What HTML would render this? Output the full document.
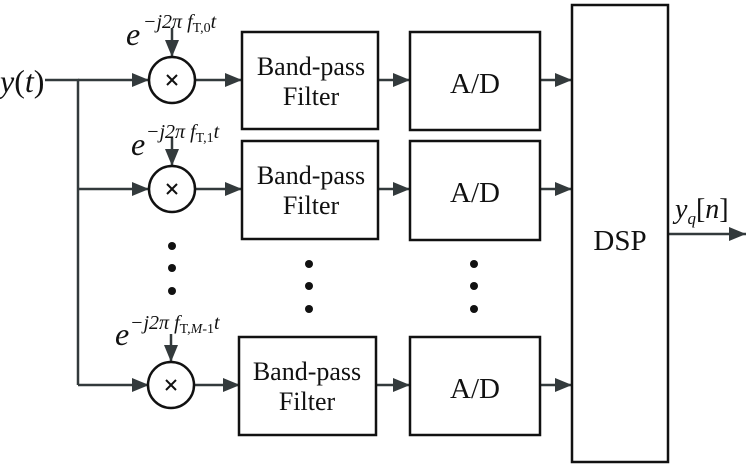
<!DOCTYPE html>
<html><head><style>body{margin:0;background:#fff} svg text{font-family:"Liberation Serif",serif}</style></head><body>
<svg width="748" height="467" viewBox="0 0 748 467" xmlns="http://www.w3.org/2000/svg">
<defs><marker id="b" markerWidth="17" markerHeight="14" refX="17" refY="7" orient="auto" markerUnits="userSpaceOnUse"><path d="M0,0 L17,7 L0,14 Z" fill="#333a3c"/></marker></defs>
<g stroke="#333a3c" stroke-width="2.5" fill="none">
<path d="M45,80 H78 V385"/>
<path d="M78,80 H149" marker-end="url(#b)"/>
<path d="M78,189 H149" marker-end="url(#b)"/>
<path d="M78,385 H149" marker-end="url(#b)"/>
<path d="M195,80 H242" marker-end="url(#b)"/>
<path d="M195,189 H242" marker-end="url(#b)"/>
<path d="M195,385 H240" marker-end="url(#b)"/>
<path d="M378,80 H410" marker-end="url(#b)"/>
<path d="M378,189 H410" marker-end="url(#b)"/>
<path d="M376,385 H410" marker-end="url(#b)"/>
<path d="M540,80 H572" marker-end="url(#b)"/>
<path d="M540,189 H572" marker-end="url(#b)"/>
<path d="M540,385 H572" marker-end="url(#b)"/>
<path d="M668,234 H746" marker-end="url(#b)"/>
<path d="M172,28 V57" marker-end="url(#b)"/>
<path d="M172,138 V166" marker-end="url(#b)"/>
<path d="M171,334 V362" marker-end="url(#b)"/>
</g>
<g stroke="#111" stroke-width="2.5" fill="#fff">
<circle cx="172" cy="80" r="23"/><circle cx="172" cy="189" r="23"/><circle cx="171" cy="385" r="23"/>
<rect x="242" y="32" width="136" height="97"/><rect x="242" y="141" width="136" height="98"/><rect x="239" y="337" width="137" height="98"/>
<rect x="410" y="32" width="130" height="98"/><rect x="410" y="141" width="130" height="99"/><rect x="410" y="337" width="130" height="98"/>
<rect x="572" y="5" width="96" height="457"/>
</g>
<g stroke="#111" stroke-width="2">
<path d="M167,75 l10,10 M177,75 l-10,10"/>
<path d="M167,184 l10,10 M177,184 l-10,10"/>
<path d="M166,380 l10,10 M176,380 l-10,10"/>
</g>
<g font-size="26" text-anchor="middle" fill="#111">
<text x="311" y="75">Band-pass</text><text x="311" y="105">Filter</text>
<text x="311" y="184">Band-pass</text><text x="311" y="214">Filter</text>
<text x="307" y="380">Band-pass</text><text x="307" y="410">Filter</text>
<text x="475" y="93" font-size="29">A/D</text><text x="475" y="202" font-size="29">A/D</text><text x="475" y="398" font-size="29">A/D</text>
<text x="620" y="250" font-size="29">DSP</text></g>
<g fill="#111" font-style="italic">
<text x="0" y="92" font-size="32">y<tspan font-style="normal">(</tspan>t<tspan font-style="normal">)</tspan></text>
<text x="126" y="45" font-size="32">e</text><text x="143" y="28" font-size="20">−j2π f<tspan font-style="normal" font-size="14" dy="4">T,0</tspan><tspan dy="-4">t</tspan></text>
<text x="131" y="155" font-size="32">e</text><text x="146" y="138" font-size="20">−j2π f<tspan font-style="normal" font-size="14" dy="4">T,1</tspan><tspan dy="-4">t</tspan></text>
<text x="115" y="345" font-size="32">e</text><text x="130" y="329" font-size="20">−j2π f<tspan font-style="normal" font-size="14" dy="4">T,<tspan font-style="italic">M</tspan>-1</tspan><tspan dy="-4">t</tspan></text>
<text x="675" y="218" font-size="28">y<tspan font-size="17" dy="6">q</tspan><tspan dy="-6" font-style="normal">[</tspan>n<tspan font-style="normal">]</tspan></text>
</g>
<g fill="#111">
<circle cx="172" cy="246" r="4"/><circle cx="172" cy="268" r="4"/><circle cx="172" cy="291" r="4"/>
<circle cx="309" cy="264" r="4"/><circle cx="309" cy="286" r="4"/><circle cx="309" cy="309" r="4"/>
<circle cx="474" cy="264" r="4"/><circle cx="474" cy="286" r="4"/><circle cx="474" cy="309" r="4"/>
</g>
</svg>
</body></html>
